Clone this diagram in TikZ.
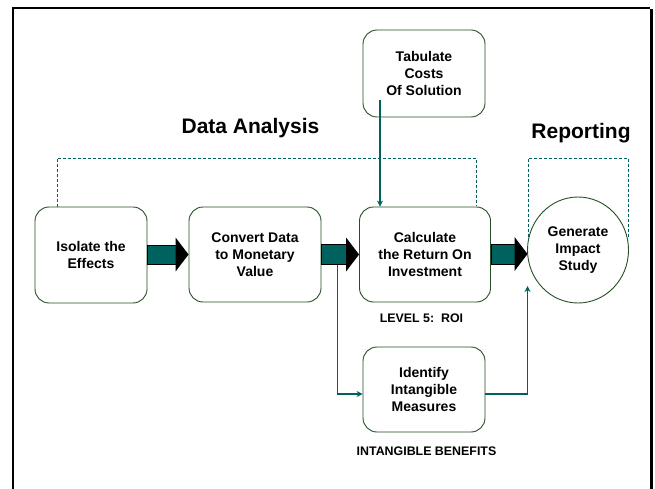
\documentclass[tikz,border=0pt]{standalone}
\usepackage{fontspec}
\setmainfont{Liberation Sans}
\usetikzlibrary{shapes.geometric,calc,arrows.meta}

\definecolor{boxline}{RGB}{38,78,38}
\definecolor{flow}{RGB}{0,98,94}

\tikzset{
  stepbox/.style={draw=boxline, line width=0.9pt, rounded corners=14pt, fill=white,
    align=center, inner sep=0pt, font=\fontsize{14}{17}\selectfont\bfseries},
  endoval/.style={ellipse, draw=boxline, line width=0.9pt, fill=white, align=center,
    inner sep=0pt, minimum width=101pt, minimum height=106pt,
    font=\fontsize{14}{17}\selectfont\bfseries},
  heading/.style={font=\fontsize{21}{25}\selectfont\bfseries},
  caption/.style={font=\fontsize{12.4}{15}\selectfont\bfseries},
  phase/.style={draw=flow, line width=0.8pt, dash pattern=on 3pt off 2pt},
  link/.style={draw=flow, line width=1.8pt, -{Stealth[length=6pt,width=6pt]}},
  shaft/.style={fill=flow, draw=black, line width=0.6pt},
}

% thick process arrow: teal shaft, black head ending at the target point
\newcommand\flowarrow[2]{%
  \draw[shaft] ($(#1)+(0,-10)$) rectangle ($(#2)+(-12,10)$);
  \fill[black] ($(#2)+(-13,-17)$) -- (#2) -- ($(#2)+(-13,17)$) -- cycle;}

\begin{document}
\begin{tikzpicture}[x=1pt,y=-1pt]
\useasboundingbox (0,0) rectangle (655,489);

% page frame
\draw[line width=1.6pt] (13,489) -- (13,8) -- (650,8);
\draw[line width=3pt] (651,9.5) -- (651,489);

% phase brackets
\draw[phase] (57,207) -- (57,158) -- (476,158) -- (476,206);
\draw[phase] (528,237) -- (528,158) -- (628,158) -- (628,237);

% headings and captions
\node[heading] (hdata) at (250.5,128) {Data Analysis};
\node[heading] (hrep) at (581,133) {Reporting};
\node[caption] (croi) at (421.5,318) {LEVEL 5:\ \ ROI};
\node[caption] (cint) at (426.5,451) {INTANGIBLE BENEFITS};

% process steps
\node[stepbox, minimum width=112pt, minimum height=96pt] (iso) at (91,255) {Isolate the\\Effects};
\node[stepbox, minimum width=132pt, minimum height=95pt] (conv) at (255,254.5) {Convert Data\\to Monetary\\Value};
\node[stepbox, minimum width=131pt, minimum height=95pt] (calc) at (425,254.5) {Calculate\\the Return On\\Investment};
\node[stepbox, minimum width=122pt, minimum height=87pt] (tab) at (424,73.5) {Tabulate\\Costs\\Of Solution};
\node[stepbox, minimum width=122pt, minimum height=85pt] (ident) at (424,389.5) {Identify\\Intangible\\Measures};
\node[endoval] (gen) at (578,250) {Generate\\Impact\\Study};

% main flow
\coordinate (genin) at ($(gen.west)+(0.5,4)$);
\flowarrow{iso.east}{conv.west}
\flowarrow{conv.east}{calc.west}
\flowarrow{calc.east}{genin}

% side links
\coordinate (tabdrop) at ($(tab.center)+(-44,27)$);
\draw[link] (tabdrop) -- (tabdrop |- calc.north);
\coordinate (branch) at ($(conv.east)+(16,10)$);
\draw[link] (branch) |- ($(ident.west)+(0,4.5)$);
\coordinate (rise) at ($(gen.west)+(0.5,36)$);
\draw[link] ($(ident.east)+(0,4.5)$) -| (rise);
\end{tikzpicture}
\end{document}
